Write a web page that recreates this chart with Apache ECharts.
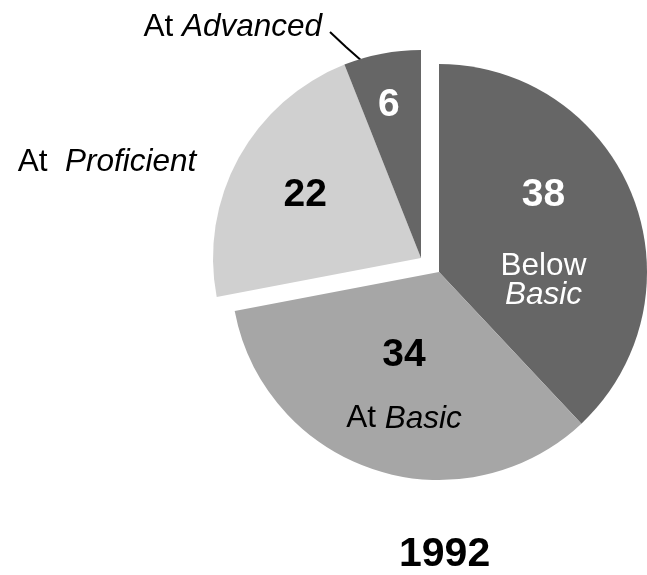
<!DOCTYPE html>
<html>
<head>
<meta charset="utf-8">
<script src="https://cdn.jsdelivr.net/npm/echarts@6/dist/echarts.min.js"></script>
<style>
  html, body { margin: 0; padding: 0; background: #fff; }
  #chart-container { width: 647px; height: 575px; }
</style>
</head>
<body>
<div id="chart-container"></div>
<script>
// achievement levels, share of students (%)
var categories = ['Below Basic', 'At Basic', 'At Proficient', 'At Advanced'];
var values = [38, 34, 22, 6];
var year = '1992';
// the two top levels are pulled out of the pie together
var pulledOut = ['At Proficient', 'At Advanced'];

var shades = ['#666666', '#a6a6a6', '#d0d0d0', '#666666'];
var FONT = "'Liberation Sans', Arial, sans-serif";
var NONE = 'rgba(0,0,0,0)';
var TXT = 31.5;

var dom = document.getElementById('chart-container');
var myChart = echarts.init(dom);

function isOut(i) {
  return pulledOut.indexOf(categories[i]) >= 0;
}

// text inside the slices: big number + level name
function insideLabel(i) {
  var words = categories[i].split(' ');
  var white = shades[i] === '#666666';
  var col = white ? '#ffffff' : '#000000';
  var rich = {
    n: { fontFamily: FONT, fontSize: 39, fontWeight: 'bold', color: col },
    t: { fontFamily: FONT, fontSize: TXT, color: col, lineHeight: 30 },
    ti: { fontFamily: FONT, fontSize: TXT, color: col, fontStyle: 'italic', lineHeight: 30 }
  };
  var text;
  if (i === 0) {
    rich.n.lineHeight = 112;
    rich.t.lineHeight = 29;
    rich.ti.lineHeight = 29;
    text = '{n|' + values[i] + '}\n{t|' + words[0] + '}\n{ti|' + words[1] + '}';
  } else if (i === 1) {
    rich.n.lineHeight = 98;
    text = '{n|' + values[i] + '}\n{t|' + words[0] + ' }{ti|' + words[1] + '}';
  } else {
    text = '{n|' + values[i] + '}';
  }
  return { show: true, position: 'inside', formatter: text, rich: rich };
}

// nudges of the inside labels from their default spot
var insideShift = [
  { dx: 5, dy: -8 },
  { dx: -2, dy: -4 },
  { dx: -22, dy: -11 },
  { dx: -12, dy: -48 }
];

function pieData(visibleOut) {
  return categories.map(function (name, i) {
    var show = isOut(i) === visibleOut;
    return {
      name: name,
      value: values[i],
      itemStyle: { color: show ? shades[i] : NONE },
      label: show ? insideLabel(i) : { show: false }
    };
  });
}

// outside names for the pulled-out slices
var outsideData = categories.map(function (name, i) {
  var words = name.split(' ');
  var item = {
    name: name,
    value: values[i],
    itemStyle: { color: NONE },
    label: { show: false },
    labelLine: { show: false }
  };
  if (isOut(i)) {
    var sep = i === 2 ? '  ' : ' ';
    item.label = {
      show: true,
      position: 'outside',
      formatter: '{t|' + words[0] + sep + '}{ti|' + words[1] + '}',
      rich: {
        t: { fontFamily: FONT, fontSize: TXT, color: '#000' },
        ti: { fontFamily: FONT, fontSize: TXT, color: '#000', fontStyle: 'italic' }
      }
    };
    item.labelLine = {
      show: i === 3,
      length: 10,
      length2: 0,
      lineStyle: { color: '#000', width: 2 }
    };
  }
  return item;
});

var outsideSpot = {
  2: { x: 107, y: 162, align: 'center', verticalAlign: 'middle' },
  3: {
    x: 322, y: 27, align: 'right', verticalAlign: 'middle',
    labelLinePoints: [[363, 62], [346, 47], [330, 32]]
  }
};

var base = {
  type: 'pie',
  radius: 208,
  startAngle: 90,
  clockwise: true,
  silent: true,
  animation: false,
  avoidLabelOverlap: false,
  emphasis: { disabled: true },
  labelLine: { show: false }
};

var option = {
  backgroundColor: '#ffffff',
  title: {
    text: year,
    left: 394,
    top: 529,
    textStyle: { fontFamily: FONT, fontSize: 41, fontWeight: 'bold', color: '#000' }
  },
  series: [
    Object.assign({}, base, {
      center: [439, 272],
      data: pieData(false),
      labelLayout: function (p) { return insideShift[p.dataIndex]; }
    }),
    Object.assign({}, base, {
      center: [421, 258],
      data: pieData(true),
      labelLayout: function (p) { return insideShift[p.dataIndex]; }
    }),
    Object.assign({}, base, {
      center: [421, 258],
      data: outsideData,
      labelLayout: function (p) { return outsideSpot[p.dataIndex] || {}; }
    })
  ]
};

myChart.setOption(option);
</script>
</body>
</html>
